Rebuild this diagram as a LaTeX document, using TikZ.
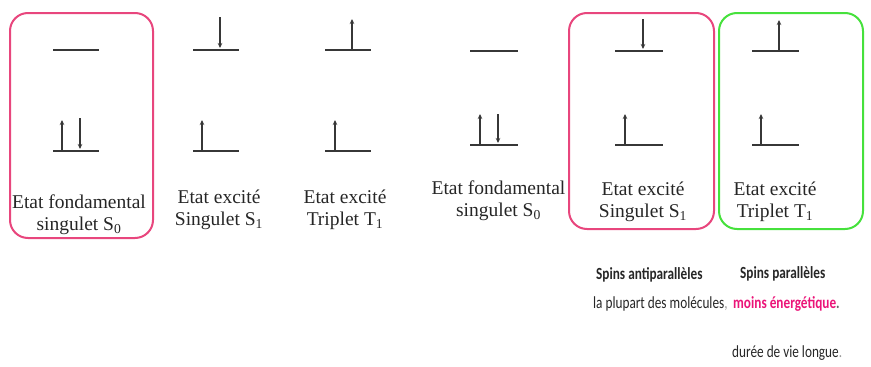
\documentclass[tikz,border=0pt]{standalone}
\usepackage{fontspec}
\setmainfont{Liberation Serif}
\newfontfamily\carlitofont{Carlito}
\usetikzlibrary{arrows.meta}
\definecolor{pinkbox}{RGB}{232,70,125}
\definecolor{greenbox}{RGB}{70,225,60}
\definecolor{pinktext}{RGB}{235,20,120}
\definecolor{lvl}{RGB}{55,55,55}
\tikzset{
  level/.style={draw=lvl, line width=1.8pt},
  spin/.style={draw=lvl, line width=1.2pt, -{Stealth[length=5pt,width=4.5pt]}},
  stbox/.style={line width=2pt, rounded corners=18pt},
  lab/.style={font=\fontsize{19.5}{22}\selectfont, align=center, text=black!85, inner sep=0pt},
  note/.style={font=\carlitofont\fontsize{17}{19}\selectfont, inner sep=0pt, anchor=base west, text=black!85},
}
\begin{document}
\begin{tikzpicture}[x=1pt,y=-1pt]
\useasboundingbox (0,0) rectangle (871,367);
% boxes
\draw[stbox, draw=pinkbox] (10,13) rectangle (153,238);
\draw[stbox, draw=pinkbox] (569,13) rectangle (714,229);
\draw[stbox, draw=greenbox] (719,13) rectangle (863,229);

% column 1: ground state S0
\draw[level] (53,50) -- (99,50);
\draw[level] (53,151) -- (99,151);
\draw[spin] (62,151) -- (62,120);
\draw[spin] (80,118) -- (80,149);
\node[lab] (t1) at (79,214.5) {Etat fondamental\\singulet S\textsubscript{0}};

% column 2: excited singlet S1
\draw[level] (193,50) -- (239,50);
\draw[level] (193,151) -- (239,151);
\draw[spin] (220,17) -- (220,48);
\draw[spin] (202,151) -- (202,120);
\node[lab] (t2) at (219,209.5) {Etat excité\\Singulet S\textsubscript{1}};

% column 3: excited triplet T1
\draw[level] (325,50) -- (371,50);
\draw[level] (325,151) -- (371,151);
\draw[spin] (352,50) -- (352,19);
\draw[spin] (335,151) -- (335,120);
\node[lab] (t3) at (345,209.5) {Etat excité\\Triplet T\textsubscript{1}};

% column 4: ground state S0
\draw[level] (470,51) -- (518,51);
\draw[level] (470,145) -- (518,145);
\draw[spin] (480,145) -- (480,114);
\draw[spin] (498,114) -- (498,143);
\node[lab] (t4) at (498.5,200.5) {Etat fondamental\\singulet S\textsubscript{0}};

% column 5: excited singlet S1 (boxed)
\draw[level] (615,51) -- (663,51);
\draw[level] (615,145) -- (663,145);
\draw[spin] (643,19) -- (643,49);
\draw[spin] (625,145) -- (625,114);
\node[lab] (t5) at (643,201.5) {Etat excité\\Singulet S\textsubscript{1}};

% column 6: excited triplet T1 (boxed)
\draw[level] (752,51) -- (799,51);
\draw[level] (752,145) -- (799,145);
\draw[spin] (779,51) -- (779,20);
\draw[spin] (761,145) -- (761,114);
\node[lab] (t6) at (775,201.5) {Etat excité\\Triplet T\textsubscript{1}};

% notes
\node[note] (n1) at (596,279) {\scalebox{0.78}[1]{\bfseries Spins antiparallèles}};
\node[note] (n2) at (740,278) {\scalebox{0.78}[1]{\bfseries Spins parallèles}};
\node[note] (n3) at (593,308) {\scalebox{0.78}[1]{la plupart des molécules\textcolor{black!40}{,}}};
\node[note, text=pinktext] (n4) at (733,308) {\scalebox{0.78}[1]{\bfseries moins énergétique\textcolor{black!60}{.}}};
\node[note] (n5) at (732,357) {\scalebox{0.78}[1]{durée de vie longue\textcolor{black!40}{.}}};
\end{tikzpicture}
\end{document}
